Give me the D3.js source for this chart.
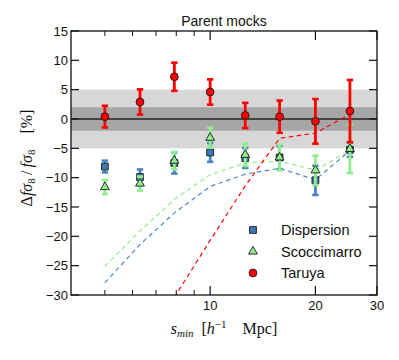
<!DOCTYPE html>
<html><head><meta charset="utf-8">
<script src="https://cdn.jsdelivr.net/npm/d3@7"></script>
<style>body{margin:0;background:#fff}</style>
</head><body>
<svg id="c" width="399" height="360"></svg>
<script>
// ---- data ----
const sMin = [5, 6.3, 7.9, 10, 12.6, 15.8, 20, 25.1];
const dispersionY   = [-8.1, -9.9, -7.5, -5.7, -6.65, -6.55, -10.45, -5.25];
const dispersionErr = [1.0, 1.3, 1.8, 1.6, 1.7, 2.0, 2.5, 1.2];
const scoccY   = [-11.6, -11.0, -7.1, -3.2, -6.1, -6.55, -8.75, -5.1];
const scoccErr = [1.2, 1.2, 1.5, 1.7, 1.9, 2.2, 2.5, 4.1];
const taruyaY   = [0.4, 2.9, 7.2, 4.6, 0.6, 0.4, -0.4, 1.35];
const taruyaErr = [1.85, 2.15, 2.4, 2.15, 2.15, 2.75, 3.8, 5.3];
const dispersionModel = [-27.9, -21.4, -16.0, -11.5, -9.4, -8.4, -10.35, -5.4];
const scoccModel      = [-25.1, -19.1, -13.7, -9.5, -7.5, -7.2, -8.7, -5.4];
const taruyaModel     = [null, null, -30.4, -20.7, -11.4, -3.3, -2.4, 0.8];
const bandOuter = [-5, 5];
const bandInner = [-2, 2];
const yTicks = [-30, -25, -20, -15, -10, -5, 0, 5, 10, 15];
const xMajorTicks = [10, 20, 30];
const xMinorTicks = [5, 6, 7, 8, 9];
const seriesNames = ["Dispersion", "Scoccimarro", "Taruya"];

// ---- layout ----
const svg = d3.select("#c");
const L = 71, R = 377, T = 31, B = 295;
const x = d3.scaleLog().domain([4, 30]).range([L, R]);
const y = d3.scaleLinear().domain([-30, 15]).range([B, T]);

svg.append("defs").append("clipPath").attr("id", "clip")
  .append("rect").attr("x", L).attr("y", T).attr("width", R - L).attr("height", B - T);

const plot = svg.append("g").attr("clip-path", "url(#clip)");

// bands
plot.append("rect").attr("x", L).attr("width", R - L)
  .attr("y", y(bandOuter[1])).attr("height", y(bandOuter[0]) - y(bandOuter[1]))
  .attr("fill", "#d7d7d7");
plot.append("rect").attr("x", L).attr("width", R - L)
  .attr("y", y(bandInner[1])).attr("height", y(bandInner[0]) - y(bandInner[1]))
  .attr("fill", "#a6a6a6");
plot.append("line").attr("x1", L).attr("x2", R).attr("y1", y(0)).attr("y2", y(0))
  .attr("stroke", "#222").attr("stroke-width", 1.5);

// model lines
function modelLine(vals, color) {
  const data = sMin.map((s, i) => [s, vals[i]]);
  plot.append("path").datum(data)
    .attr("d", d3.line().defined(d => d[1] !== null).x(d => x(d[0])).y(d => y(d[1])))
    .attr("fill", "none").attr("stroke", color).attr("stroke-width", 1.2)
    .attr("stroke-dasharray", "4.5,3.5");
}
modelLine(dispersionModel, "#4f86c4");
modelLine(scoccModel, "#90ee90");
modelLine(taruyaModel, "#ff0000");

// error bars + markers
function errorbars(vals, errs, color) {
  const g = plot.append("g");
  sMin.forEach((s, i) => {
    const cx = x(s), y0 = y(vals[i] - errs[i]), y1 = y(vals[i] + errs[i]);
    g.append("line").attr("x1", cx).attr("x2", cx).attr("y1", y0).attr("y2", y1)
      .attr("stroke", color).attr("stroke-width", 2.8);
    [y0, y1].forEach(cy => g.append("line").attr("x1", cx - 3.2).attr("x2", cx + 3.2)
      .attr("y1", cy).attr("y2", cy).attr("stroke", color).attr("stroke-width", 2.6));
  });
  return g;
}
const sym = {
  square: d3.symbol().type(d3.symbolSquare).size(46),
  triangle: d3.symbol().type(d3.symbolTriangle).size(34),
  circle: d3.symbol().type(d3.symbolCircle).size(48)
};
function markers(g, vals, shape, fill) {
  sMin.forEach((s, i) => {
    g.append("path").attr("d", sym[shape]())
      .attr("transform", `translate(${x(s)},${y(vals[i])})`)
      .attr("fill", fill).attr("stroke", "#1a1a1a").attr("stroke-width", 0.9);
  });
}
const gd = errorbars(dispersionY, dispersionErr, "#4a85c0");
markers(gd, dispersionY, "square", "#3c78b4");
const gs = errorbars(scoccY, scoccErr, "#90ee90");
markers(gs, scoccY, "triangle", "#90ee90");
const gt = errorbars(taruyaY, taruyaErr, "#ff0000");
markers(gt, taruyaY, "circle", "#ff0000");

// frame
svg.append("rect").attr("x", L).attr("y", T).attr("width", R - L).attr("height", B - T)
  .attr("fill", "none").attr("stroke", "#111").attr("stroke-width", 1.3);

// y ticks
const tickFont = "'Liberation Sans', Arial, sans-serif";
yTicks.forEach(v => {
  const yy = y(v);
  svg.append("line").attr("x1", L).attr("x2", L + 8).attr("y1", yy).attr("y2", yy).attr("stroke", "#111").attr("stroke-width", 1.2);
  svg.append("line").attr("x1", R - 8).attr("x2", R).attr("y1", yy).attr("y2", yy).attr("stroke", "#111").attr("stroke-width", 1.2);
  svg.append("text").attr("x", L - 3).attr("y", yy + 4.5).attr("text-anchor", "end")
    .attr("font-family", tickFont).attr("font-size", 13).attr("fill", "#111")
    .text(v < 0 ? "\u2212" + Math.abs(v) : String(v));
});
// x ticks
xMajorTicks.forEach(v => {
  const xx = x(v);
  svg.append("line").attr("x1", xx).attr("x2", xx).attr("y1", B).attr("y2", B - 9).attr("stroke", "#111").attr("stroke-width", 1.2);
  svg.append("line").attr("x1", xx).attr("x2", xx).attr("y1", T).attr("y2", T + 9).attr("stroke", "#111").attr("stroke-width", 1.2);
  svg.append("text").attr("x", xx).attr("y", B + 15).attr("text-anchor", "middle")
    .attr("font-family", tickFont).attr("font-size", 13).attr("fill", "#111").text(v);
});
xMinorTicks.forEach(v => {
  const xx = x(v);
  svg.append("line").attr("x1", xx).attr("x2", xx).attr("y1", B).attr("y2", B - 5).attr("stroke", "#111").attr("stroke-width", 1);
  svg.append("line").attr("x1", xx).attr("x2", xx).attr("y1", T).attr("y2", T + 5).attr("stroke", "#111").attr("stroke-width", 1);
});

// title
svg.append("text").attr("x", 224).attr("y", 25.5).attr("text-anchor", "middle")
  .attr("font-family", tickFont).attr("font-size", 14).attr("fill", "#111").text("Parent mocks");

// axis labels
const mathFont = "'Liberation Serif', 'Times New Roman', serif";
const xl = svg.append("text").attr("x", 224).attr("y", 334).attr("text-anchor", "middle")
  .attr("font-family", mathFont).attr("font-size", 16).attr("fill", "#111");
xl.append("tspan").attr("font-style", "italic").text("s");
xl.append("tspan").attr("font-style", "italic").attr("font-size", 11).attr("dy", 3).text("min");
xl.append("tspan").attr("dy", -3).text("\u2002[");
xl.append("tspan").attr("font-style", "italic").text("h");
xl.append("tspan").attr("font-size", 11).attr("dy", -6).text("\u22121");
xl.append("tspan").attr("dy", 6).text("\u2002\u2002Mpc]");

const yl = svg.append("text").attr("transform", "translate(32,158) rotate(-90)")
  .attr("text-anchor", "middle").attr("font-family", mathFont).attr("font-size", 16).attr("fill", "#111");
yl.append("tspan").text("\u0394");
yl.append("tspan").attr("font-style", "italic").text("f\u03C3");
yl.append("tspan").attr("font-size", 11).attr("dy", 3).text("8");
yl.append("tspan").attr("dy", -3).text("\u2009/\u2009");
yl.append("tspan").attr("font-style", "italic").text("f\u03C3");
yl.append("tspan").attr("font-size", 11).attr("dy", 3).text("8");
yl.append("tspan").attr("dy", -3).text("\u2002\u2002[%]");

// legend
const legY = [230, 251.5, 273];
const legShapes = ["square", "triangle", "circle"];
const legFills = ["#3c78b4", "#90ee90", "#ff0000"];
seriesNames.forEach((n, i) => {
  svg.append("path").attr("d", sym[legShapes[i]]())
    .attr("transform", `translate(253,${legY[i]})`)
    .attr("fill", legFills[i]).attr("stroke", "#1a1a1a").attr("stroke-width", 0.9);
  svg.append("text").attr("x", 281).attr("y", legY[i] + 5.2)
    .attr("font-family", tickFont).attr("font-size", 14.5).attr("fill", "#111").text(n);
});
</script>
</body></html>
